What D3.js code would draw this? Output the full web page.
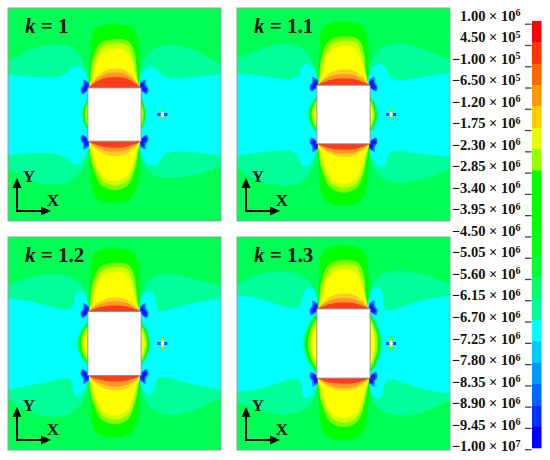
<!DOCTYPE html>
<html><head><meta charset="utf-8">
<script src="https://cdn.jsdelivr.net/npm/d3@7"></script>
<style>html,body{margin:0;padding:0;background:#fff}svg{display:block}text{font-family:"Liberation Serif",serif;font-weight:bold;fill:#111}</style>
</head><body><div id="c"></div>
<script>
// ---------- data: contour vertices in field units (hole half width = 80, field = +-320) ----------
const kValues = [1, 1.1, 1.2, 1.3];
const tickLabels = [["1.00","6"],["4.50","5"],["\u22121.00","5"],["\u22126.50","5"],["\u22121.20","6"],["\u22121.75","6"],["\u22122.30","6"],["\u22122.85","6"],["\u22123.40","6"],["\u22123.95","6"],["\u22124.50","6"],["\u22125.05","6"],["\u22125.60","6"],["\u22126.15","6"],["\u22126.70","6"],["\u22127.25","6"],["\u22127.80","6"],["\u22128.35","6"],["\u22128.90","6"],["\u22129.45","6"],["\u22121.00","7"]];
const barColors = ["#ff0000","#ff3300","#ff6600","#ff9900","#ffcc00","#e6ff00","#99ff00","#00ff00","#00ff00","#00ff00","#00ff11","#00ff33","#00ff66","#00ff99","#00ffff","#00ccff","#0099ff","#0066ff","#0033ff","#0000ff"];

const tealLeft = [
 [[-322,-160],[-322,-160],[-283,-178],[-253,-200],[-193,-210],[-133,-210],[-103,-180],[-76,-125],[-76,125],[-98,170],[-133,208],[-193,212],[-243,204],[-288,178],[-322,160],[-322,160]],
 [[-322,-169],[-322,-169],[-259,-192],[-209,-213],[-139,-213],[-99,-178],[-75,-122],[-75,130],[-99,170],[-129,215],[-189,215],[-239,207],[-289,184],[-322,161],[-322,161]],
 [[-322,-176],[-322,-176],[-272,-194],[-212,-210],[-132,-205],[-97,-180],[-75,-130],[-75,138],[-102,183],[-132,218],[-192,223],[-252,208],[-292,187],[-322,164],[-322,164]],
 [[-322,-175],[-322,-175],[-279,-203],[-209,-219],[-139,-214],[-94,-184],[-75,-138],[-75,144],[-99,189],[-139,209],[-189,219],[-239,204],[-289,188],[-322,175],[-322,175]]
];
const tealRight = [
 [[322,-150],[322,-150],[277,-173],[237,-198],[177,-214],[117,-204],[87,-169],[70,-123],[70,128],[102,179],[147,194],[217,189],[277,173],[322,150],[322,150]],
 [[322,-164],[322,-164],[261,-187],[181,-220],[111,-208],[86,-168],[69,-112],[69,124],[101,185],[151,210],[221,200],[281,184],[322,161],[322,161]],
 [[322,-171],[322,-171],[258,-189],[178,-213],[108,-205],[83,-160],[71,-114],[71,132],[98,193],[148,218],[218,213],[278,182],[322,164],[322,164]],
 [[322,-175],[322,-175],[261,-203],[191,-219],[111,-219],[86,-174],[69,-128],[69,138],[101,199],[151,219],[231,214],[281,188],[322,170],[322,170]]
];
const cyanLeft = [
 [[-322,-120],[-322,-120],[-243,-113],[-173,-107],[-140,-125],[-128,-148],[-103,-148],[-85,-125],[-74,-83],[-74,80],[-78,108],[-103,152],[-128,152],[-145,122],[-213,114],[-283,117],[-322,125],[-322,125]],
 [[-322,-122],[-322,-122],[-239,-116],[-169,-102],[-134,-109],[-129,-152],[-99,-156],[-82,-122],[-74,-89],[-74,96],[-92,140],[-114,163],[-131,152],[-139,104],[-209,110],[-279,116],[-322,126],[-322,126]],
 [[-322,-136],[-322,-136],[-242,-126],[-172,-104],[-122,-95],[-120,-152],[-102,-165],[-82,-140],[-74,-96],[-74,99],[-90,142],[-110,164],[-124,150],[-127,96],[-172,108],[-242,124],[-322,139],[-322,139]],
 [[-322,-145],[-322,-145],[-259,-140],[-189,-113],[-127,-96],[-121,-162],[-101,-177],[-79,-150],[-74,-102],[-74,100],[-92,155],[-111,172],[-126,156],[-121,96],[-189,114],[-249,140],[-322,145],[-322,145]]
];
const cyanRight = [
 [[322,-120],[322,-120],[217,-110],[147,-105],[127,-140],[102,-148],[80,-125],[69,-85],[69,95],[85,138],[102,157],[137,152],[142,112],[217,109],[322,125],[322,125]],
 [[322,-126],[322,-126],[221,-109],[136,-96],[131,-146],[101,-159],[79,-132],[70,-89],[70,96],[89,140],[111,163],[131,153],[131,98],[221,120],[322,126],[322,126]],
 [[322,-134],[322,-134],[248,-126],[158,-99],[123,-92],[126,-142],[103,-163],[81,-150],[70,-96],[70,99],[81,133],[103,161],[123,146],[120,90],[198,113],[258,129],[322,139],[322,139]],
 [[322,-145],[322,-145],[231,-130],[141,-98],[119,-96],[121,-157],[101,-177],[79,-160],[70,-105],[70,105],[84,155],[101,172],[121,157],[119,96],[201,124],[261,145],[322,150],[322,150]]
];
// lobes: [dx, height above the hole edge]
const lobeColors = ["#00ff00","#80ff00","#ccff00","#ffff00"];
const lobeTop = [
 [[-75,0],[-73,110],[-62,172],[-33,188],[7,191],[47,182],[66,162],[75,110],[73,0]],
 [[-75,0],[-70,60],[-63,96],[-43,134],[-3,146],[42,140],[60,106],[67,46],[74,0]],
 [[-75,0],[-66,65],[-59,88],[-38,122],[-3,132],[37,128],[55,92],[65,41],[74,0]],
 [[-76,0],[-64,45],[-56,72],[-40,103],[-8,117],[30,114],[47,91],[60,51],[75,0]]
];
const lobeBottom = [
 [[-78,0],[-73,85],[-70,135],[-52,174],[-3,187],[47,174],[68,135],[75,75],[77,0]],
 [[-78,0],[-68,70],[-62,87],[-42,130],[2,147],[42,130],[61,85],[70,40],[78,0]],
 [[-78,0],[-65,62],[-57,85],[-37,118],[2,133],[40,118],[59,75],[68,35],[78,0]],
 [[-78,0],[-62,55],[-52,80],[-32,110],[2,120],[37,105],[56,65],[66,30],[78,0]]
];
const archColors = ["#ffcc22","#ff9922","#ff3c1e"];
const archTopPeaks = [[58,46,33],[47,34,20],[42,30,18],[46,33,19]];
const archBottomPeaks = [[45,32,20],[40,30,18],[45,33,18],[38,29,17]];
const archProfile = [[-79,0],[-55,.55],[-25,.92],[2,1],[30,.92],[55,.55],[79,0]];
// side bulges: depth beyond hole side per band, half span per band
const sideColors = ["#00ff66","#00ff00","#99ff00","#ffff00"];
const sideDepth = [[18,15,10,5],[28,24,17,10],[34,29,22,14],[42,37,28,19]];
const sideSpan  = [[48,44,38,28],[55,50,44,34],[66,60,54,42],[92,84,76,66]];
// blue corner blobs relative to the hole corner (top-left case)
const blobOuter = [[4,4],[-17,19],[-22,4],[-14,-10],[-13,-25],[3,-16]];
const blobInner = [[2,3],[-14,14],[-18,4],[-10,-6],[-9,-18],[2,-11]];
const markerX = [144,143,144,143];
const markerArm = [14,14,21,21];
const titleText = ["1","1.1","1.2","1.3"];

// ---------- layout ----------
const W=550,H=460,panelSize=213;
const origins=[[8,8],[237,8],[8,237],[237,237]];
const svg=d3.select("#c").append("svg").attr("width",W).attr("height",H);
const defs=svg.append("defs");
defs.append("filter").attr("id","soft").append("feGaussianBlur").attr("stdDeviation",0.55);
defs.append("clipPath").attr("id","pc").append("rect").attr("width",panelSize).attr("height",panelSize);
const x=d3.scaleLinear().domain([-320,320]).range([0,panelSize]);
const y=d3.scaleLinear().domain([-320,320]).range([0,panelSize]);
const curve=d3.line().x(d=>x(d[0])).y(d=>y(d[1])).curve(d3.curveCatmullRom.alpha(0.5));
const soft=d3.line().x(d=>x(d[0])).y(d=>y(d[1])).curve(d3.curveBasis);
const closed=pts=>curve(pts)+"Z";
const closedSoft=pts=>soft(pts)+"Z";

kValues.forEach((k,i)=>{
  const g=svg.append("g").attr("transform",`translate(${origins[i]})`);
  const clip=g.append("g").attr("clip-path","url(#pc)");
  const f=clip.append("g").attr("filter","url(#soft)");
  const hh=k*80;
  f.append("rect").attr("x",-6).attr("y",-6).attr("width",panelSize+12).attr("height",panelSize+12).attr("fill","#00ff55");
  [tealLeft[i],tealRight[i]].forEach(p=>f.append("path").attr("d",closedSoft(p)).attr("fill","#00ff99"));
  [cyanLeft[i],cyanRight[i]].forEach(p=>f.append("path").attr("d",closedSoft(p)).attr("fill","#00ffff"));
  // side bulges
  sideColors.forEach((c,b)=>{
    [-1,1].forEach(s=>{
      const dep=sideDepth[i][b]*(s<0?1:0.85),sp=sideSpan[i][b];
      const pts=[[s*70,-sp],[s*79,-sp],[s*(79+dep*.7),-sp*.55],[s*(79+dep),0],[s*(79+dep*.7),sp*.55],[s*79,sp],[s*70,sp]];
      f.append("path").attr("d",closed(pts)).attr("fill",c);
    });
  });
  // lobes
  lobeColors.forEach((c,b)=>{
    f.append("path").attr("d",closed(lobeTop[b].map(d=>[d[0],-hh-d[1]]))).attr("fill",c);
    f.append("path").attr("d",closed(lobeBottom[b].map(d=>[d[0],hh+d[1]]))).attr("fill",c);
  });
  archColors.forEach((c,b)=>{
    f.append("path").attr("d",closed(archProfile.map(d=>[d[0],-hh-d[1]*archTopPeaks[i][b]]))).attr("fill",c);
    f.append("path").attr("d",closed(archProfile.map(d=>[d[0],hh+d[1]*archBottomPeaks[i][b]]))).attr("fill",c);
  });
  // corner blobs
  [[-1,-1],[1,-1],[-1,1],[1,1]].forEach(([sx,sy])=>{
    const map=pts=>pts.map(d=>[sx*80-sx*(-d[0]),sy*hh-sy*(-d[1])].map((v,a)=>a==0?sx*80+(sx<0?d[0]:-d[0]):sy*hh+(sy<0?d[1]:-d[1])));
    f.append("path").attr("d",closed(map(blobOuter))).attr("fill","#0078ff");
    f.append("path").attr("d",closed(map(blobInner))).attr("fill","#0a1eff");
  });
  // singular point marker
  const mx=markerX[i],arm=markerArm[i];
  f.append("line").attr("x1",x(mx)).attr("x2",x(mx)).attr("y1",y(-arm)).attr("y2",y(arm)).attr("stroke","#66ff00").attr("stroke-width",2.6);
  f.append("line").attr("x1",x(mx)).attr("x2",x(mx)).attr("y1",y(-arm*.55)).attr("y2",y(arm*.55)).attr("stroke","#ffee00").attr("stroke-width",2);
  f.append("line").attr("x1",x(mx-15)).attr("x2",x(mx+15)).attr("y1",y(0)).attr("y2",y(0)).attr("stroke","#1a40ff").attr("stroke-width",3);
  f.append("circle").attr("cx",x(mx)).attr("cy",y(0)).attr("r",1.9).attr("fill","#fff");
  // hole
  f.append("rect").attr("x",x(-80)).attr("y",y(-hh)).attr("width",x(80)-x(-80)).attr("height",y(hh)-y(-hh)).attr("fill","#fff").attr("stroke","#8a8a8a").attr("stroke-width",0.9);
  // frame
  g.append("rect").attr("width",panelSize).attr("height",panelSize).attr("fill","none").attr("stroke","#86a896").attr("stroke-width",1);
  // title
  const t=g.append("text").attr("x",17).attr("y",25).attr("font-size",21);
  t.append("tspan").attr("font-style","italic").text("k");
  t.append("tspan").text(" = "+titleText[i]);
  // axes triad
  const ox=9,oy=203,tipY=170,tipX=43;
  const ax=g.append("g");
  ax.append("path").attr("d",`M${ox},${tipY+8}V${oy}H${tipX-8}`).attr("fill","none").attr("stroke","#000").attr("stroke-width",2);
  ax.append("path").attr("d",`M${ox},${tipY}l-4.5,10h9Z`).attr("fill","#000");
  ax.append("path").attr("d",`M${tipX},${oy}l-10,-4.5v9Z`).attr("fill","#000");
  g.append("text").attr("x",21).attr("y",174).attr("text-anchor","middle").attr("font-size",17).text("Y");
  g.append("text").attr("x",45).attr("y",198).attr("text-anchor","middle").attr("font-size",17).text("X");
});

// ---------- colour bar ----------
const barY=d3.scaleBand().domain(d3.range(barColors.length)).range([21,448]).paddingInner(0);
svg.append("g").selectAll("rect").data(barColors).join("rect")
  .attr("x",532).attr("width",9.5).attr("y",(d,i)=>barY(i)).attr("height",barY.bandwidth()+.3).attr("fill",d=>d);
const tickY=d3.scalePoint().domain(d3.range(tickLabels.length)).range([23.7,449.2]);
const labelY=d3.scalePoint().domain(d3.range(tickLabels.length)).range([20.6,451.2]);
const axisG=svg.append("g").attr("transform","translate(531.5,0)").call(d3.axisLeft(tickY).tickSize(6.5).tickFormat(""));
axisG.select(".domain").remove();
axisG.selectAll("line").attr("stroke","#444").attr("stroke-width",1.3);
const lab=svg.append("g").selectAll("text").data(tickLabels).join("text")
  .attr("x",520.5).attr("y",(d,i)=>labelY(i)).attr("text-anchor","end").attr("font-size",14.5);
lab.append("tspan").text(d=>d[0]+" \u00d7 10");
lab.append("tspan").attr("dy",-4.5).attr("font-size",10).text(d=>d[1]);
</script></body></html>
